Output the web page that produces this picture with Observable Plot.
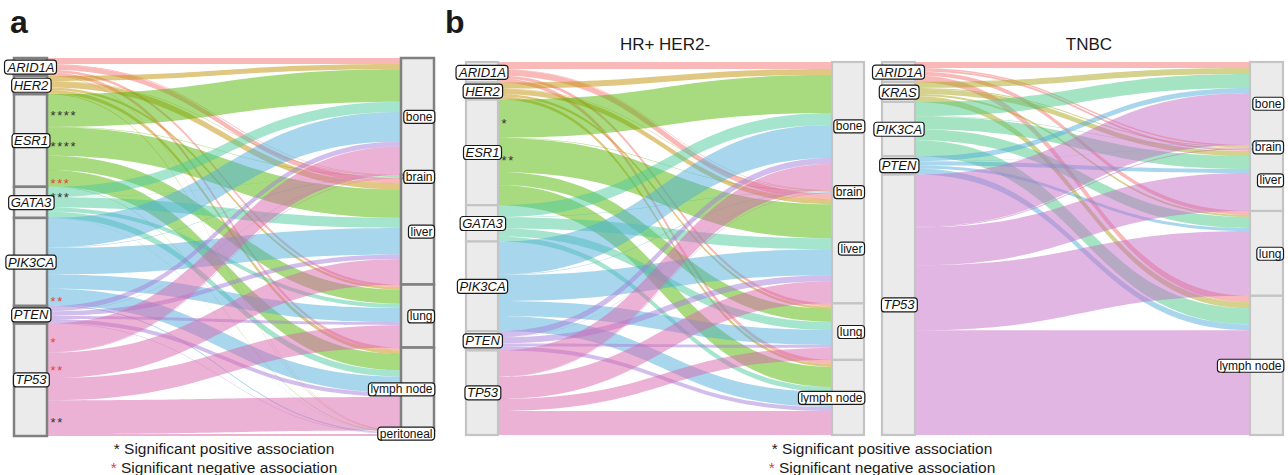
<!DOCTYPE html>
<html><head><meta charset="utf-8">
<script src="https://cdn.jsdelivr.net/npm/d3@7"></script>
<script src="https://cdn.jsdelivr.net/npm/@observablehq/plot@0.6"></script>
<style>
body{margin:0;background:#fff;font-family:"Liberation Sans",Arial,sans-serif;}
#wrap{position:relative;width:1288px;height:475px;overflow:hidden;background:#fff;}
.panel{position:absolute;top:0;}
.txt{position:absolute;white-space:nowrap;line-height:1;color:#1a1a1a;}
.tag{font-weight:bold;font-size:32px;}
.ttl{font-size:17px;transform:translateX(-50%);}
.cap{font-size:15.5px;transform:translateX(-50%);}
.red{color:#e8413a;}
</style></head><body><div id="wrap"></div>
<script>
// ---------- Panel a: all patients ----------
const genesA = ["ARID1A","HER2","ESR1","GATA3","PIK3CA","PTEN","TP53"];
const sitesA = ["bone","brain","liver","lung","lymph node","peritoneal"];
// rows = genes, columns = sites
const valuesA = [
  [6, 0.6, 5, 2.5, 3, 0.5],
  [5, 0.4, 6, 2.5, 3.5, 0.6],
  [32, 0.5, 28, 14, 16, 0.5],
  [10, 0.3, 10, 4, 6, 0.3],
  [29, 0.5, 26, 14, 16, 1],
  [5, 0.3, 4.5, 3, 4, 0.5],
  [28, 0.5, 25, 22, 33, 2]
];
const starsA = [
  ["ESR1","bone","****","+"],
  ["ESR1","liver","****","+"],
  ["ESR1","lymph node","***","-"],
  ["GATA3","bone","***","+"],
  ["PIK3CA","lymph node","**","-"],
  ["TP53","bone","*","-"],
  ["TP53","liver","**","-"],
  ["TP53","lymph node","**","+"]
];
const colorsA = ["#F57373","#C39105","#51B501","#4BC99B","#51ADD9","#A57DD9","#D765AD"];

// ---------- Panel b: HR+ HER2- ----------
const genesH = ["ARID1A","HER2","ESR1","GATA3","PIK3CA","PTEN","TP53"];
const sitesH = ["bone","brain","liver","lung","lymph node"];
const valuesH = [
  [7, 0.5, 6, 3, 4],
  [6, 0.5, 5, 2.5, 3],
  [38, 0.5, 34, 13, 20],
  [12, 0.3, 11, 8, 5],
  [33, 0.5, 26, 15, 15],
  [6, 0.3, 6, 3, 4],
  [26, 0.5, 22, 12, 24]
];
const starsH = [
  ["ESR1","bone","*","+"],
  ["ESR1","liver","**","+"]
];

// ---------- Panel b: TNBC ----------
const genesT = ["ARID1A","KRAS","PIK3CA","PTEN","TP53"];
const sitesT = ["bone","brain","liver","lung","lymph node"];
const valuesT = [
  [6, 1.5, 2, 4, 6.5],
  [6, 1, 5, 2, 6],
  [14, 0.5, 13, 11, 16],
  [5, 0.3, 4, 3, 6],
  [52, 1, 38, 65, 105]
];
const starsT = [];
const colorsT = ["#F57373","#A9A519","#4BC987","#51ADD9","#C56DC5"];

// ---------- alluvial layout ----------
function layout(genes, sites, values) {
  const flows = [];
  let yl = 0;
  genes.forEach((g, i) => sites.forEach((s, j) => {
    const v = values[i][j];
    if (v > 0) { flows.push({gene: g, site: s, gi: i, sj: j, v, l0: yl, l1: yl + v}); yl += v; }
  }));
  let yr = 0;
  sites.forEach((s, j) => genes.forEach((g, i) => {
    const f = flows.find(f => f.gi === i && f.sj === j);
    if (f) { f.r0 = yr; f.r1 = yr + f.v; yr += f.v; }
  }));
  const left = genes.map((g, i) => {
    const fs = flows.filter(f => f.gi === i);
    return {name: g, y0: d3.min(fs, f => f.l0), y1: d3.max(fs, f => f.l1)};
  });
  const right = sites.map((s, j) => {
    const fs = flows.filter(f => f.sj === j);
    return {name: s, y0: d3.min(fs, f => f.r0), y1: d3.max(fs, f => f.r1)};
  });
  return {flows, left, right, total: yl};
}

const NS = "http://www.w3.org/2000/svg";
function addLabelBoxes(svg) {
  svg.querySelectorAll('g[aria-description="stratum-label"] text').forEach(t => {
    const b = t.getBBox();
    const r = document.createElementNS(NS, "rect");
    r.setAttribute("x", b.x - 2);
    r.setAttribute("y", b.y + 0.5);
    r.setAttribute("width", b.width + 4);
    r.setAttribute("height", b.height - 1);
    r.setAttribute("rx", 3);
    r.setAttribute("fill", "white");
    r.setAttribute("stroke", "#1a1a1a");
    r.setAttribute("stroke-width", 1.2);
    const tr = t.getAttribute("transform");
    if (tr) r.setAttribute("transform", tr);
    t.parentNode.insertBefore(r, t);
  });
  svg.querySelectorAll('g[aria-description="stars"] text').forEach(t => {
    t.style.letterSpacing = "1.6px";
  });
}

function panel(cfg) {
  const {genes, sites, values, colors, stars, w, left, width, height, xr, yr, stroke, strokeWidth} = cfg;
  const L = layout(genes, sites, values);
  const rows = L.flows.flatMap((f, k) => [
    {id: k, gene: f.gene, x: 1 + w / 2, ya: f.l0, yb: f.l1},
    {id: k, gene: f.gene, x: 2 - w / 2, ya: f.r0, yb: f.r1}
  ]);
  const leftS = L.left.map(d => ({...d, xa: 1 - w / 2, xb: 1 + w / 2, xm: 1, ym: (d.y0 + d.y1) / 2}));
  const rightS = L.right.map(d => ({...d, xa: 2 - w / 2, xb: 2 + w / 2, xm: 2 + w / 2, ym: (d.y0 + d.y1) / 2}));
  const starRows = stars.map(([g, s, txt, sign]) => {
    const f = L.flows.find(f => f.gene === g && f.site === s);
    return {x: 1 + w / 2, y: (f.l0 + f.l1) / 2, txt, sign};
  });
  const svg = Plot.plot({
    width, height,
    style: {fontFamily: "'Liberation Sans', Arial, sans-serif", background: "transparent"},
    x: {domain: [1 - w / 2, 2 + w / 2], range: xr, axis: null},
    y: {domain: [0, L.total], range: yr, axis: null},
    color: {domain: genes, range: colors},
    marks: [
      Plot.area(rows, {x1: "x", y1: "ya", y2: "yb", z: "id", fill: "gene", fillOpacity: 0.5, curve: "bump-x"}),
      Plot.rect(leftS, {x1: "xa", x2: "xb", y1: "y0", y2: "y1", fill: "#ebebeb", stroke, strokeWidth}),
      Plot.rect(rightS, {x1: "xa", x2: "xb", y1: "y0", y2: "y1", fill: "#ebebeb", stroke, strokeWidth}),
      Plot.text(starRows.filter(d => d.sign === "+"), {x: "x", y: "y", text: "txt", textAnchor: "start", dx: 3, dy: 5, fontSize: 13, fill: "#333", ariaDescription: "stars"}),
      Plot.text(starRows.filter(d => d.sign === "-"), {x: "x", y: "y", text: "txt", textAnchor: "start", dx: 3, dy: 5, fontSize: 13, fill: "#e8413a", ariaDescription: "stars"}),
      Plot.text(leftS, {x: "xm", y: "ym", text: "name", fontSize: 13, fontStyle: "italic", fill: "#111", ariaDescription: "stratum-label"}),
      Plot.text(rightS, {x: "xm", y: "ym", text: "name", fontSize: 12, textAnchor: "end", dx: -2, fill: "#111", ariaDescription: "stratum-label"})
    ]
  });
  const div = document.createElement("div");
  div.className = "panel";
  div.style.left = left + "px";
  div.style.width = width + "px";
  div.appendChild(svg);
  document.getElementById("wrap").appendChild(div);
  addLabelBoxes(svg);
}

panel({genes: genesA, sites: sitesA, values: valuesA, colors: colorsA, stars: starsA,
  w: 33 / 387, left: 0, width: 445, height: 445, xr: [14, 434], yr: [58, 436], stroke: "#808080", strokeWidth: 2.5});
panel({genes: genesH, sites: sitesH, values: valuesH, colors: colorsA, stars: starsH,
  w: 32 / 366, left: 445, width: 425, height: 445, xr: [21, 419], yr: [62, 435], stroke: "#c4c4c4", strokeWidth: 2.2});
panel({genes: genesT, sites: sitesT, values: valuesT, colors: colorsT, stars: starsT,
  w: 33 / 368, left: 870, width: 418, height: 445, xr: [12, 413], yr: [62, 435], stroke: "#c4c4c4", strokeWidth: 2.2});

// ---------- texts ----------
const texts = [
  {cls: "tag", html: "a", left: 10, top: 6},
  {cls: "tag", html: "b", left: 445, top: 6},
  {cls: "ttl", html: "HR+ HER2-", left: 665, top: 36},
  {cls: "ttl", html: "TNBC", left: 1089, top: 36},
  {cls: "cap", html: "* Significant positive association", left: 224, top: 441},
  {cls: "cap", html: "<span class='red'>*</span> Significant negative association", left: 224, top: 460},
  {cls: "cap", html: "* Significant positive association", left: 882, top: 441},
  {cls: "cap", html: "<span class='red'>*</span> Significant negative association", left: 882, top: 460}
];
texts.forEach(t => {
  const d = document.createElement("div");
  d.className = "txt " + t.cls;
  d.style.left = t.left + "px";
  d.style.top = t.top + "px";
  d.innerHTML = t.html;
  document.getElementById("wrap").appendChild(d);
});
</script></body></html>
